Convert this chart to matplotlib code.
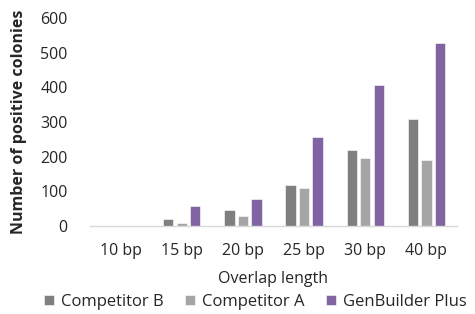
import matplotlib
matplotlib.use("Agg")
import matplotlib.pyplot as plt
import numpy as np

categories = ["10 bp", "15 bp", "20 bp", "25 bp", "30 bp", "40 bp"]
competitor_b = [0, 21, 45, 119, 219, 308]
competitor_a = [0, 10, 29, 110, 197, 190]
genbuilder_plus = [0, 58, 79, 257, 407, 527]
series_names = ["Competitor B", "Competitor A", "GenBuilder Plus"]
colors = ["#7f7f7f", "#a5a5a5", "#8064a2"]

plt.rcParams['font.family'] = ['Open Sans', 'DejaVu Sans']

fig = plt.figure(figsize=(4.75, 3.14), dpi=100)
ax = fig.add_axes([90/475, 1-226/314, (457-90)/475, (226-18)/314])

x = np.arange(len(categories))
w = 0.17
off = 0.22
for i, (vals, name, c) in enumerate(zip([competitor_b, competitor_a, genbuilder_plus], series_names, colors)):
    ax.bar(x + (i-1)*off, vals, width=w, color=c, label=name, edgecolor='white', linewidth=0.4)

ax.set_xlim(-0.5, len(categories)-0.5)
ax.set_ylim(0, 600)
ax.set_yticks(range(0, 601, 100))
ax.set_xticks(x)
ax.set_xticklabels(categories)
ax.tick_params(axis='both', length=0, labelsize=11.5, colors='#262626')
ax.tick_params(axis='y', pad=16)
ax.tick_params(axis='x', pad=12)
for s in ['top', 'right', 'left']:
    ax.spines[s].set_visible(False)
ax.spines['bottom'].set_color('#d9d9d9')
ax.spines['bottom'].set_linewidth(1.0)

ax.set_xlabel("Overlap length", fontsize=11.5, color='#262626', labelpad=9)
ax.set_ylabel("Number of positive colonies", fontsize=11.5, fontweight='bold', color='#262626', labelpad=10)

ax.legend(loc='center', bbox_to_anchor=(0.45, -0.365), ncol=3, frameon=False,
          fontsize=12, handlelength=0.6, handleheight=0.6, handletextpad=0.4,
          columnspacing=1.3, labelcolor='#262626', borderpad=0)

fig.savefig("out.png", dpi=100)
